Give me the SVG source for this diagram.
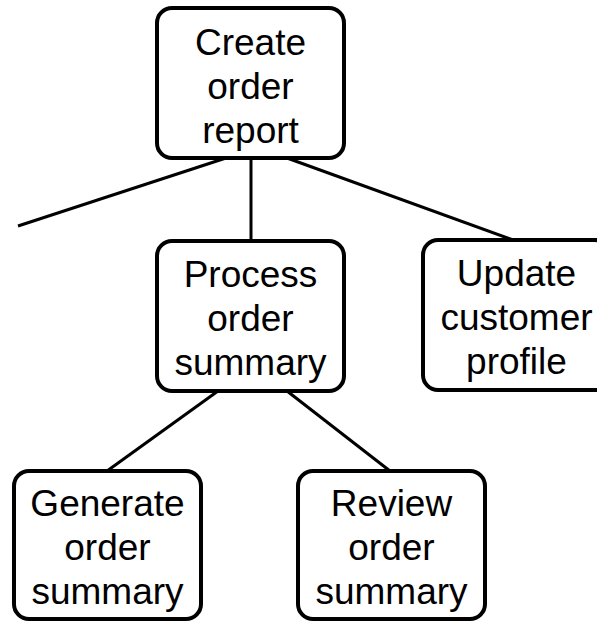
<svg xmlns="http://www.w3.org/2000/svg" width="597" height="623" viewBox="0 0 597 623">
<style>
.box{fill:#fff;stroke:#000;stroke-width:4}
.lbl{font-family:"Liberation Sans",Arial,sans-serif;font-size:37px;fill:#000;text-anchor:middle}
.edge{stroke:#000;stroke-width:3;fill:none}
</style>
<rect width="597" height="623" fill="#fff"/>
<g id="connectors">
<line class="edge" x1="226" y1="158" x2="18" y2="226"/>
<line class="edge" x1="251" y1="158" x2="251" y2="241"/>
<line class="edge" x1="287" y1="158" x2="513" y2="240"/>
<line class="edge" x1="218" y1="391" x2="107" y2="471"/>
<line class="edge" x1="287" y1="391" x2="390" y2="471"/>
</g>
<g id="create-order-report">
<rect class="box" x="157" y="8" width="187" height="150" rx="15"/>
<text class="lbl" x="250.5" y="55">Create</text>
<text class="lbl" x="250.5" y="99">order</text>
<text class="lbl" x="250.5" y="143">report</text>
</g>
<g id="process-order-summary">
<rect class="box" x="157" y="241" width="187" height="150" rx="15"/>
<text class="lbl" x="250.5" y="287">Process</text>
<text class="lbl" x="250.5" y="331">order</text>
<text class="lbl" x="250.5" y="375">summary</text>
</g>
<g id="update-customer-profile">
<rect class="box" x="423" y="240" width="187" height="150" rx="15"/>
<text class="lbl" x="516.5" y="286">Update</text>
<text class="lbl" x="516.5" y="330">customer</text>
<text class="lbl" x="516.5" y="374">profile</text>
</g>
<g id="generate-order-summary">
<rect class="box" x="14" y="471" width="187" height="148" rx="15"/>
<text class="lbl" x="107.5" y="516">Generate</text>
<text class="lbl" x="107.5" y="560">order</text>
<text class="lbl" x="107.5" y="604">summary</text>
</g>
<g id="review-order-summary">
<rect class="box" x="298" y="471" width="187" height="148" rx="15"/>
<text class="lbl" x="391.5" y="516">Review</text>
<text class="lbl" x="391.5" y="560">order</text>
<text class="lbl" x="391.5" y="604">summary</text>
</g>
</svg>
